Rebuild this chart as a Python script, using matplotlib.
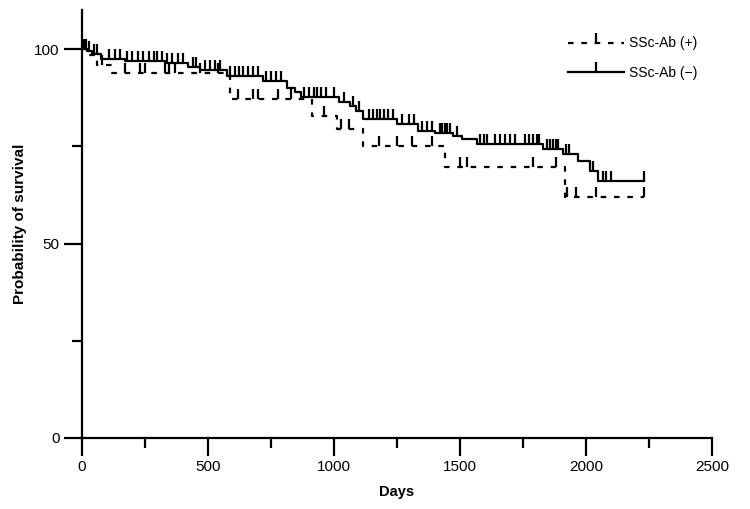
import numpy as np
import matplotlib
matplotlib.use('Agg')
import matplotlib.pyplot as plt
from matplotlib.lines import Line2D
from matplotlib.ticker import MultipleLocator

plt.rcParams['font.family'] = ['Liberation Sans', 'DejaVu Sans']

# SSc-Ab (-) : step times / survival (%)
neg_times = [0, 20, 40, 75, 170, 330, 420, 470, 575, 718, 813, 845, 870, 1020, 1063,
             1090, 1115, 1250, 1333, 1400, 1473, 1508, 1567, 1829, 1909, 1968, 2016, 2048]
neg_surv = [100, 99.5, 98.8, 97.5, 97.0, 96.5, 95.5, 94.5, 93.0, 91.8, 90.0, 88.9, 87.8, 86.5, 85.3,
            84.0, 82.0, 80.7, 79.0, 78.5, 77.6, 76.8, 75.5, 74.2, 72.9, 71.1, 68.6, 66.2]
neg_end = 2230
neg_censor = [5, 15, 30, 50, 60, 110, 130, 150, 180, 200, 225, 245, 265, 285, 300, 320,
              340, 360, 380, 400, 440, 455, 490, 510, 530, 550, 590, 610, 625, 640, 660, 680, 700,
              730, 750, 770, 790, 880, 900, 920, 935, 950, 970, 1000, 1040, 1075, 1100,
              1140, 1155, 1170, 1185, 1200, 1215, 1235, 1270, 1300, 1320, 1350, 1370, 1390,
              1420, 1430, 1440, 1450, 1460, 1490, 1580, 1595, 1610, 1640, 1660, 1680, 1700,
              1720, 1760, 1775, 1790, 1805, 1815, 1845, 1860, 1870, 1880, 1890, 1920, 1935,
              2030, 2070, 2080, 2100, 2230]

# SSc-Ab (+)
pos_times = [0, 20, 60, 120, 590, 912, 1011, 1115, 1440, 1917]
pos_surv = [100, 98.5, 96.0, 93.8, 87.1, 82.8, 79.4, 75.0, 69.6, 61.9]
pos_end = 2230
pos_censor = [10, 80, 170, 230, 250, 330, 345, 370, 470, 540, 620, 680, 700, 780, 830,
              960, 1030, 1060, 1180, 1250, 1310, 1390, 1500, 1530, 1790, 1880,
              1925, 1960, 2040, 2230]

DASH = (0, (2.5, 3.5))


def draw_km(ax, times, surv, end, censor, ls):
    t = list(times) + [end]
    s = list(surv) + [surv[-1]]
    ax.step(t, s, where='post', color='black', lw=1.6, ls=ls)
    idx = np.searchsorted(times, censor, side='right') - 1
    ax.plot(censor, np.array(surv)[idx], ls='none', marker=2, ms=7,
            mew=1.6, color='black')


fig = plt.figure(figsize=(7.5, 5.09), dpi=100)
ax = fig.add_axes([0.109, 0.1395, 0.84, 0.8405])

draw_km(ax, pos_times, pos_surv, pos_end, pos_censor, DASH)
draw_km(ax, neg_times, neg_surv, neg_end, neg_censor, '-')

ax.set_xlim(0, 2500)
ax.set_ylim(0, 110)
ax.xaxis.set_major_locator(MultipleLocator(500))
ax.xaxis.set_minor_locator(MultipleLocator(250))
ax.set_yticks([0, 50, 100])
ax.yaxis.set_minor_locator(MultipleLocator(25))
ax.spines['top'].set_visible(False)
ax.spines['right'].set_visible(False)
for sp in ['left', 'bottom']:
    ax.spines[sp].set_linewidth(1.6)
ax.tick_params(which='major', length=13, width=1.6, labelsize=11, pad=3)
ax.tick_params(which='minor', length=7, width=1.6)
ax.set_xlabel('Days', fontsize=10.5, fontweight='bold', labelpad=8)
ax.set_ylabel('Probability of survival', fontsize=11, fontweight='bold', labelpad=5)

handles = [Line2D([], [], color='black', lw=1.6, ls=DASH, marker=2, ms=7, mew=1.6),
           Line2D([], [], color='black', lw=1.6, ls='-', marker=2, ms=7, mew=1.6)]
ax.legend(handles, ['SSc-Ab (+)', 'SSc-Ab (\u2212)'], loc='upper left',
          bbox_to_anchor=(0.752, 0.968), frameon=False, numpoints=1,
          handlelength=4.0, fontsize=10, labelspacing=1.1, handletextpad=0.4)

fig.savefig('out.png', dpi=100)
